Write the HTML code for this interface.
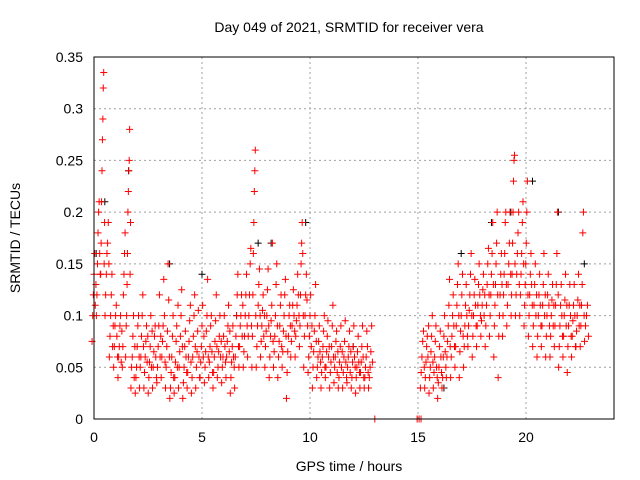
<!DOCTYPE html>
<html><head><meta charset="utf-8"><style>
body{margin:0;background:#fff;}
svg{display:block;font-family:"Liberation Sans",sans-serif;}
</style></head><body>
<svg id="chart" width="640" height="480" xmlns="http://www.w3.org/2000/svg">
<text x="349" y="32" text-anchor="middle" font-size="14" fill="#000">Day 049 of 2021, SRMTID for receiver vera</text>
<text transform="translate(20,238) rotate(-90)" text-anchor="middle" font-size="14" fill="#000">SRMTID / TECUs</text>
<text x="349" y="471" text-anchor="middle" font-size="14" fill="#000">GPS time / hours</text>
<g id="grid"></g>
<g id="ticks"></g>
<g id="black"></g>
<g id="red"></g>
<rect x="94" y="57" width="520" height="362" fill="none" stroke="#000" stroke-width="1"/>
</svg>
<script>
const xTicks=[0,5,10,15,20];
const yTicks=[0,0.05,0.1,0.15,0.2,0.25,0.3,0.35];
const yTickLabels=["0","0.05","0.1","0.15","0.2","0.25","0.3","0.35"];
// each row: [time (h), values at/around that time]
const redRows=[
[0.0,[0.075,0.1,0.12,0.14,0.16,0.11,0.13]],
[0.2,[0.1,0.12,0.15,0.18,0.2,0.21,0.16,0.14]],
[0.4,[0.14,0.17,0.21,0.24,0.27,0.29,0.32,0.335,0.15,0.19]],
[0.6,[0.1,0.12,0.14,0.16,0.17,0.19,0.15]],
[0.8,[0.06,0.08,0.1,0.12,0.14,0.07,0.09]],
[1.0,[0.05,0.07,0.09,0.1,0.11,0.08,0.06]],
[1.2,[0.04,0.06,0.07,0.09,0.1,0.055,0.085]],
[1.4,[0.05,0.07,0.12,0.14,0.16,0.18,0.06,0.09]],
[1.6,[0.1,0.13,0.16,0.2,0.22,0.24,0.25,0.28,0.14,0.19]],
[1.8,[0.03,0.05,0.06,0.08,0.1,0.04,0.07]],
[2.0,[0.025,0.04,0.05,0.07,0.09,0.1,0.06]],
[2.2,[0.03,0.05,0.06,0.08,0.1,0.12,0.07]],
[2.4,[0.03,0.045,0.06,0.075,0.09,0.055,0.08]],
[2.6,[0.025,0.04,0.055,0.07,0.1,0.05,0.085]],
[2.8,[0.03,0.05,0.065,0.08,0.09,0.06,0.04]],
[3.0,[0.035,0.05,0.07,0.09,0.12,0.06,0.08]],
[3.2,[0.04,0.06,0.075,0.09,0.135,0.1,0.055]],
[3.4,[0.03,0.05,0.07,0.085,0.15,0.115,0.06]],
[3.6,[0.02,0.03,0.045,0.06,0.08,0.1,0.04]],
[3.8,[0.025,0.04,0.055,0.075,0.09,0.05,0.11]],
[4.0,[0.03,0.05,0.065,0.08,0.1,0.125,0.07]],
[4.2,[0.02,0.035,0.05,0.07,0.085,0.06,0.045]],
[4.4,[0.03,0.045,0.06,0.075,0.095,0.11,0.055]],
[4.6,[0.025,0.04,0.06,0.08,0.1,0.12,0.07]],
[4.8,[0.03,0.05,0.065,0.085,0.105,0.06,0.04]],
[5.0,[0.04,0.055,0.07,0.09,0.11,0.06,0.08]],
[5.2,[0.035,0.05,0.065,0.085,0.1,0.135,0.06]],
[5.4,[0.04,0.055,0.07,0.09,0.1,0.065,0.045]],
[5.6,[0.03,0.045,0.06,0.075,0.095,0.12,0.07]],
[5.8,[0.04,0.05,0.065,0.08,0.1,0.06,0.075]],
[6.0,[0.035,0.05,0.06,0.08,0.1,0.07,0.055]],
[6.2,[0.04,0.06,0.075,0.09,0.11,0.065,0.085]],
[6.4,[0.025,0.04,0.055,0.07,0.09,0.06,0.05]],
[6.6,[0.03,0.06,0.08,0.1,0.12,0.14,0.07]],
[6.8,[0.05,0.07,0.09,0.1,0.12,0.08,0.11]],
[7.0,[0.05,0.065,0.08,0.1,0.12,0.14,0.09]],
[7.2,[0.06,0.08,0.1,0.12,0.15,0.165,0.09]],
[7.4,[0.05,0.08,0.12,0.16,0.19,0.22,0.24,0.26,0.1]],
[7.6,[0.05,0.07,0.09,0.11,0.13,0.145,0.1]],
[7.8,[0.06,0.075,0.09,0.105,0.12,0.08,0.1]],
[8.0,[0.05,0.07,0.085,0.1,0.125,0.145,0.09]],
[8.2,[0.04,0.06,0.08,0.095,0.11,0.17,0.075]],
[8.4,[0.05,0.065,0.08,0.1,0.13,0.15,0.09]],
[8.6,[0.04,0.06,0.075,0.09,0.11,0.12,0.07]],
[8.8,[0.05,0.065,0.085,0.1,0.12,0.135,0.08]],
[9.0,[0.02,0.045,0.065,0.08,0.1,0.11,0.09]],
[9.2,[0.06,0.075,0.09,0.11,0.125,0.1,0.085]],
[9.4,[0.06,0.08,0.095,0.11,0.14,0.12,0.1]],
[9.6,[0.07,0.09,0.12,0.15,0.17,0.19,0.16,0.1]],
[9.8,[0.05,0.08,0.1,0.12,0.14,0.115,0.09]],
[10.0,[0.045,0.06,0.08,0.1,0.12,0.07,0.09]],
[10.2,[0.03,0.05,0.065,0.085,0.1,0.13,0.075]],
[10.4,[0.04,0.05,0.06,0.075,0.09,0.065,0.055]],
[10.6,[0.03,0.045,0.06,0.07,0.085,0.1,0.05]],
[10.8,[0.04,0.05,0.065,0.08,0.095,0.06,0.07]],
[11.0,[0.03,0.045,0.055,0.07,0.09,0.11,0.06]],
[11.2,[0.035,0.05,0.06,0.075,0.085,0.045,0.065]],
[11.4,[0.03,0.04,0.055,0.07,0.09,0.05,0.065]],
[11.6,[0.03,0.045,0.06,0.075,0.095,0.055,0.04]],
[11.8,[0.035,0.05,0.06,0.07,0.085,0.045,0.065]],
[12.0,[0.03,0.04,0.055,0.07,0.09,0.06,0.05]],
[12.2,[0.025,0.04,0.05,0.065,0.08,0.055,0.045]],
[12.4,[0.03,0.045,0.055,0.07,0.09,0.06,0.04]],
[12.6,[0.03,0.04,0.05,0.06,0.085,0.07,0.045]],
[12.8,[0.03,0.04,0.05,0.065,0.09,0.055]],
[13.0,[0.0]],
[15.05,[0.0,0.0,0.0]],
[15.2,[0.03,0.045,0.06,0.075,0.085,0.05]],
[15.4,[0.03,0.04,0.055,0.07,0.08,0.06,0.09]],
[15.6,[0.025,0.04,0.05,0.065,0.08,0.1,0.055]],
[15.8,[0.03,0.045,0.06,0.075,0.09,0.05,0.04]],
[16.0,[0.02,0.035,0.05,0.07,0.085,0.06,0.045]],
[16.2,[0.03,0.04,0.06,0.08,0.1,0.065,0.05]],
[16.4,[0.04,0.06,0.075,0.09,0.11,0.135,0.07]],
[16.6,[0.04,0.06,0.08,0.1,0.12,0.09,0.07]],
[16.8,[0.05,0.07,0.09,0.11,0.13,0.15,0.1]],
[17.0,[0.04,0.065,0.085,0.1,0.12,0.14,0.08]],
[17.2,[0.05,0.07,0.09,0.11,0.13,0.1,0.08]],
[17.4,[0.07,0.09,0.105,0.12,0.14,0.16,0.1]],
[17.6,[0.06,0.08,0.1,0.12,0.135,0.11,0.09]],
[17.8,[0.07,0.09,0.11,0.13,0.15,0.12,0.1]],
[18.0,[0.08,0.095,0.11,0.125,0.14,0.1,0.12]],
[18.2,[0.07,0.09,0.11,0.13,0.15,0.165,0.12]],
[18.4,[0.08,0.1,0.12,0.14,0.16,0.19,0.13]],
[18.6,[0.06,0.09,0.11,0.13,0.15,0.17,0.2,0.12]],
[18.8,[0.04,0.08,0.1,0.12,0.14,0.16,0.13]],
[19.0,[0.08,0.1,0.12,0.14,0.16,0.19,0.2,0.13]],
[19.2,[0.09,0.11,0.13,0.15,0.17,0.2,0.14]],
[19.4,[0.1,0.12,0.14,0.17,0.2,0.23,0.25,0.255,0.15]],
[19.6,[0.1,0.12,0.14,0.16,0.18,0.2,0.13]],
[19.8,[0.1,0.12,0.14,0.16,0.19,0.21,0.15]],
[20.0,[0.09,0.11,0.13,0.15,0.17,0.2,0.23,0.12]],
[20.2,[0.08,0.1,0.12,0.14,0.16,0.13,0.11]],
[20.4,[0.07,0.09,0.11,0.13,0.15,0.1,0.12]],
[20.6,[0.06,0.08,0.1,0.12,0.14,0.11,0.09]],
[20.8,[0.07,0.09,0.11,0.13,0.16,0.1,0.12]],
[21.0,[0.06,0.08,0.1,0.12,0.14,0.11,0.09]],
[21.2,[0.06,0.08,0.1,0.115,0.13,0.09,0.11]],
[21.4,[0.07,0.09,0.11,0.13,0.16,0.2,0.12]],
[21.6,[0.05,0.07,0.09,0.11,0.13,0.1,0.08]],
[21.8,[0.06,0.08,0.1,0.115,0.14,0.09,0.11]],
[22.0,[0.045,0.07,0.09,0.11,0.13,0.1,0.08]],
[22.2,[0.06,0.08,0.095,0.11,0.13,0.1,0.07]],
[22.4,[0.07,0.085,0.1,0.115,0.14,0.09,0.11]],
[22.6,[0.07,0.09,0.11,0.13,0.18,0.2,0.1]],
[22.8,[0.075,0.09,0.1,0.11,0.08]]
];
const blackTimes=[0.1,0.5,1.6,3.5,5.0,6.6,7.6,8.2,9.8,12.0,16.2,17.0,18.4,19.3,20.3,21.5,22.7];
const blackValues=[0.16,0.21,0.24,0.15,0.14,0.1,0.17,0.17,0.19,0.07,0.03,0.16,0.19,0.2,0.23,0.2,0.15];
const X0=94,PXH=21.6,Y0=419,Y1=57,YMAX=0.35;
function sx(t){return X0+t*PXH;}
function sy(v){return Y0-(v/YMAX)*(Y0-Y1);}
const NS="http://www.w3.org/2000/svg";
const grid=document.getElementById('grid'),ticks=document.getElementById('ticks');
function mk(tag,attrs,parent){const e=document.createElementNS(NS,tag);for(const k in attrs)e.setAttribute(k,attrs[k]);parent.appendChild(e);return e;}
xTicks.forEach(t=>{
  const x=sx(t);
  if(t>0){const g=mk('line',{x1:x,x2:x,y1:Y1,y2:Y0,stroke:'#a0a0a0','stroke-dasharray':'2,3'},grid);
  
  }
  const l=mk('text',{x:x,y:442,'text-anchor':'middle','font-size':'14',fill:'#000'},ticks);
  l.textContent=t;
  
  
});
yTicks.forEach((v,i)=>{
  const y=sy(v);
  if(v>0&&v<YMAX){const g=mk('line',{x1:X0,x2:614,y1:y,y2:y,stroke:'#a0a0a0','stroke-dasharray':'2,3'},grid);
  
  }
  const l=mk('text',{x:83,y:y+5,'text-anchor':'end','font-size':'14',fill:'#000'},ticks);
  l.textContent=yTickLabels[i];
  
  
});
function cross(g,t,v,color,name){
  const x=sx(t),y=sy(v);
  const p=mk('path',{d:`M${x-3.5},${y}h7M${x},${y-3.5}v7`,stroke:color,'stroke-width':'1',fill:'none'},g);
  
  
}
const gb=document.getElementById('black');
blackTimes.forEach((t,i)=>cross(gb,t,blackValues[i],'#000','black-point'));
const gr=document.getElementById('red');
// spread each row's points across its 0.2h bin, jittered deterministically by index
redRows.forEach(([t,vals])=>{
  vals.forEach((v,j)=>{
    const dt=vals.length>1?(j/(vals.length-1)-0.5)*0.18:0;
    cross(gr,t+dt,v,'#f00','red-point');
  });
});
</script>
</body></html>
